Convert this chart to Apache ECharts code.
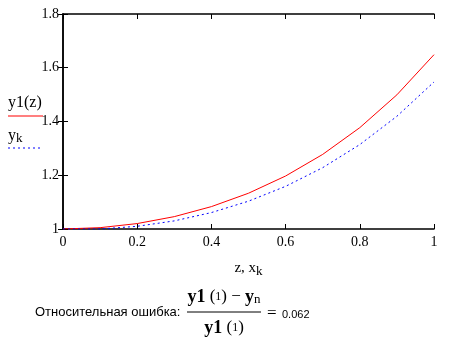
<!DOCTYPE html>
<html>
<head>
<meta charset="utf-8">
<style>
  html, body { margin: 0; padding: 0; background: #fff; }
  #chart { width: 457px; height: 340px; }
</style>
<script src="https://cdn.jsdelivr.net/npm/echarts@6/dist/echarts.min.js"></script>
</head>
<body>
<div id="chart"></div>
<script>
// Grid nodes z / x_k
const xs = [0, 0.1, 0.2, 0.3, 0.4, 0.5, 0.6, 0.7, 0.8, 0.9, 1.0];
// Exact solution y1(z)
const y1 = [1.0, 1.005, 1.0202, 1.046, 1.0833, 1.1331, 1.1972, 1.2776, 1.3771, 1.4993, 1.6487];
// Numerical solution y_k
const yk = [1.0, 1.0, 1.01, 1.0302, 1.0611, 1.1035, 1.1587, 1.2282, 1.3142, 1.4194, 1.5471];
const xTicks = [0, 0.2, 0.4, 0.6, 0.8, 1];
const yTicks = [1, 1.2, 1.4, 1.6, 1.8];
const tickStep = 0.2;
const relError = '0.062';

const serif = '"Liberation Serif", "DejaVu Serif", serif';
const sans = '"Liberation Sans", Arial, sans-serif';

const chart = echarts.init(document.getElementById('chart'), null, { renderer: 'canvas' });

const tickStyle = { show: true, inside: true, length: 5, lineStyle: { color: '#000', width: 1 } };
const lineStyle = { show: true, lineStyle: { color: '#000', width: 1.5 } };
const fmt = v => String(+v.toFixed(1));

function baseX(extra) {
  return Object.assign({
    type: 'value', min: xTicks[0], max: xTicks[xTicks.length - 1],
    interval: tickStep,
    axisLine: lineStyle, axisTick: tickStyle, splitLine: { show: false }
  }, extra);
}
function baseY(extra) {
  return Object.assign({
    type: 'value', min: yTicks[0], max: yTicks[yTicks.length - 1],
    interval: tickStep,
    axisLine: lineStyle, axisTick: tickStyle, splitLine: { show: false }
  }, extra);
}

// bold serif "y1 (1)" with the small argument, as used in the formula
const fracRich = {
  b: { font: 'bold 18px ' + serif, fill: '#000' },
  p: { font: '17px ' + serif, fill: '#000' },
  i: { font: '12px ' + serif, fill: '#000' },
  m: { font: '17px ' + serif, fill: '#000' },
  s: { font: '13px ' + serif, fill: '#000', padding: [6, 0, 0, 0] }
};

const option = {
  animation: false,
  backgroundColor: '#fff',
  grid: { left: 63, right: 23, top: 14, bottom: 111, containLabel: false },
  xAxis: [
    baseX({
      position: 'bottom',
      axisLabel: { color: '#000', fontFamily: serif, fontSize: 14, margin: 6, formatter: fmt },
      name: '{n|z, x}{s|k}',
      nameLocation: 'middle', nameGap: 30,
      nameTextStyle: {
        rich: {
          n: { fontFamily: serif, fontSize: 15, color: '#000' },
          s: { fontFamily: serif, fontSize: 13, color: '#000', padding: [6, 0, 0, 0] }
        }
      }
    }),
    baseX({ position: 'top', axisLabel: { show: false } })
  ],
  yAxis: [
    baseY({
      position: 'left',
      axisLabel: { color: '#000', fontFamily: serif, fontSize: 14, margin: 4, formatter: fmt }
    }),
    baseY({ position: 'right', axisLabel: { show: false } })
  ],
  series: [
    {
      name: 'y1(z)', type: 'line', xAxisIndex: 0, yAxisIndex: 0,
      data: xs.map((x, i) => [x, y1[i]]),
      showSymbol: false, symbol: 'none', smooth: false,
      lineStyle: { color: '#ff0000', width: 1 }, z: 3
    },
    {
      name: 'yk', type: 'line', xAxisIndex: 0, yAxisIndex: 0,
      data: xs.map((x, i) => [x, yk[i]]),
      showSymbol: false, symbol: 'none', smooth: false,
      lineStyle: { color: '#0000ff', width: 1, type: [2, 3] }, z: 3
    }
  ],
  graphic: [
    // legend captions
    { type: 'text', left: 8, top: 95, style: { text: 'y1(z)', font: '16px ' + serif, fill: '#000' } },
    { type: 'line', shape: { x1: 8, y1: 116, x2: 43, y2: 116 }, style: { stroke: '#ff0000', lineWidth: 1.2 } },
    { type: 'text', left: 8, top: 128, style: {
        text: '{n|y}{s|k}',
        rich: {
          n: { font: '16px ' + serif, fill: '#000' },
          s: { font: '13px ' + serif, fill: '#000', padding: [6, 0, 0, 0] }
        }
      } },
    { type: 'line', shape: { x1: 8, y1: 148, x2: 41, y2: 148 }, style: { stroke: '#0000ff', lineWidth: 1, lineDash: [2, 3] } },

    // relative error formula
    { type: 'text', left: 35, top: 306, style: { text: 'Относительная ошибка:', font: '13px ' + sans, fill: '#000' } },
    { type: 'text', x: 224, y: 297, style: {
        text: '{b|y1}{p| (}{i|1}{p|)}{m| − }{b|y}{s|n}',
        align: 'center', verticalAlign: 'middle', rich: fracRich
      } },
    { type: 'line', shape: { x1: 187, y1: 312, x2: 261, y2: 312 }, style: { stroke: '#000', lineWidth: 1 } },
    { type: 'text', x: 224, y: 328, style: {
        text: '{b|y1}{p| (}{i|1}{p|)}',
        align: 'center', verticalAlign: 'middle', rich: fracRich
      } },
    { type: 'text', x: 267, y: 314, style: { text: '=', font: '17px ' + serif, fill: '#000', verticalAlign: 'middle' } },
    { type: 'text', x: 282, y: 315, style: { text: relError, font: '11px ' + sans, fill: '#000', verticalAlign: 'middle' } }
  ]
};

chart.setOption(option);
</script>
</body>
</html>
